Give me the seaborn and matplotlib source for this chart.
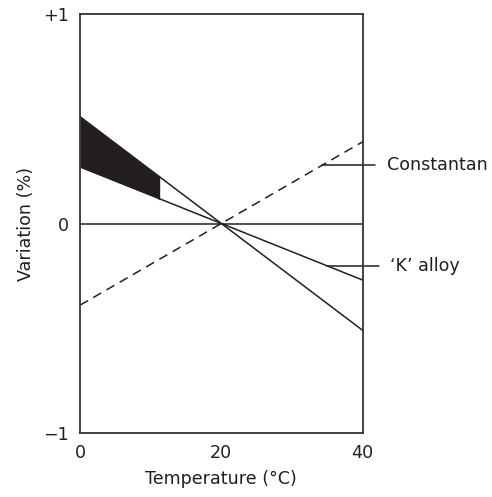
import matplotlib
matplotlib.use("Agg")
import matplotlib.pyplot as plt
import seaborn as sns
import pandas as pd
import numpy as np

# Data
temps = [0, 20, 40]
k_alloy_upper = [0.51, 0.0, -0.51]
k_alloy_lower = [0.27, 0.0, -0.27]
constantan = [-0.39, 0.0, 0.39]
zero_line = [0.0, 0.0, 0.0]
band_end = 11.2
x_ticks = [0, 20, 40]
x_tick_labels = ["0", "20", "40"]
y_ticks = [-1, 0, 1]
y_tick_labels = ["\u22121", "0", "+1"]

sns.set_theme(style="white")
plt.rcParams["font.family"] = ["DejaVu Sans"]

fig = plt.figure(figsize=(4.92, 4.97), dpi=100)
ax = fig.add_axes([0.1626, 0.1288, 0.5745, 0.843])

ink = "#231f20"
fs = 12.6
df = pd.DataFrame({"T": temps, "up": k_alloy_upper, "lo": k_alloy_lower,
                   "con": constantan, "zero": zero_line})

sns.lineplot(data=df, x="T", y="up", ax=ax, color=ink, lw=1.1)
sns.lineplot(data=df, x="T", y="lo", ax=ax, color=ink, lw=1.1)
sns.lineplot(data=df, x="T", y="zero", ax=ax, color=ink, lw=1.1)
sns.lineplot(data=df, x="T", y="con", ax=ax, color=ink, lw=1.1,
             linestyle=(0, (6, 4)))

# shaded band between the two K alloy lines at low temperature
xb = np.array([0, band_end])
up_b = np.interp(xb, temps, k_alloy_upper)
lo_b = np.interp(xb, temps, k_alloy_lower)
ax.fill_between(xb, lo_b, up_b, color=ink, lw=0)
ax.plot([band_end, band_end], [np.interp(band_end, temps, k_alloy_lower),
        np.interp(band_end, temps, k_alloy_upper)], color=ink, lw=1.0)

ax.set_xlim(0, 40)
ax.set_ylim(-1, 1)
ax.set_xticks(x_ticks)
ax.set_xticklabels(x_tick_labels)
ax.set_yticks(y_ticks)
ax.set_yticklabels(y_tick_labels)
ax.tick_params(length=0, labelsize=fs, colors=ink, pad=8)
ax.set_xlabel("Temperature (\u00b0C)", fontsize=fs, color=ink, labelpad=6)
ax.set_ylabel("Variation (%)", fontsize=fs, color=ink, labelpad=6)
for s in ax.spines.values():
    s.set_color("#333333")
    s.set_linewidth(1.3)

# leader lines and labels
c_y = np.interp(34.3, temps, constantan)
ax.plot([34.3, 41.8], [c_y, c_y], color=ink, lw=1.1, clip_on=False)
ax.text(43.4, c_y, "Constantan", fontsize=fs, color=ink, va="center", ha="left")
k_y = np.interp(34.9, temps, k_alloy_lower)
ax.plot([34.9, 42.3], [k_y, k_y], color=ink, lw=1.1, clip_on=False)
ax.text(43.8, k_y, "\u2018K\u2019 alloy", fontsize=fs, color=ink, va="center", ha="left")

fig.savefig("out.png", dpi=100)
